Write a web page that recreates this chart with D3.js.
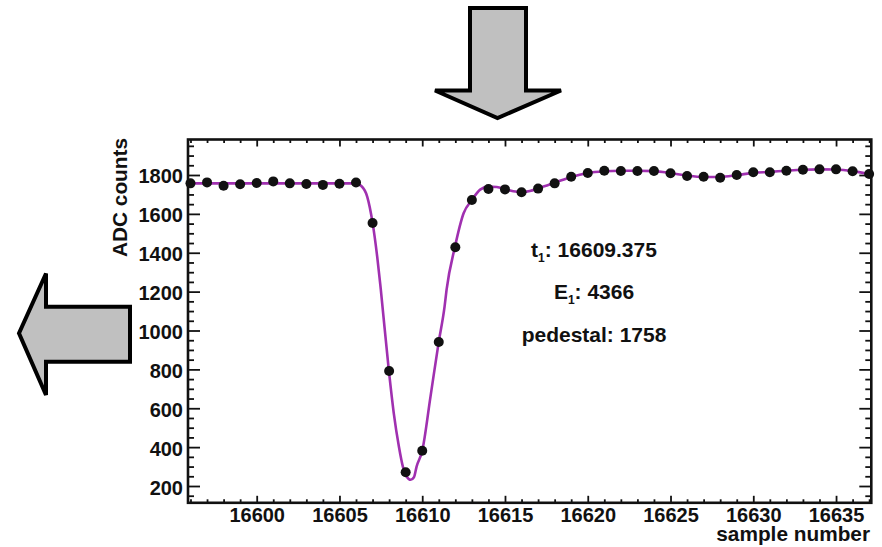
<!DOCTYPE html>
<html>
<head>
<meta charset="utf-8">
<script src="https://cdn.jsdelivr.net/npm/d3@7"></script>
<style>
  body { margin: 0; background: #fff; }
  svg { display: block; font-family: "Liberation Sans", Arial, sans-serif; font-weight: bold; }
  .axis text { font-size: 20px; font-weight: bold; fill: #111; }
  .axis line { stroke: #111; stroke-width: 1.8; }
  .axis path { display: none; }
</style>
</head>
<body>
<svg id="pulse_vis"></svg>
<script>
// measured samples (black dots)
let sampleNumbers = [16596, 16597, 16598, 16599, 16600, 16601, 16602, 16603, 16604, 16605,
  16606, 16607, 16608, 16609, 16610, 16611, 16612, 16613, 16614, 16615, 16616, 16617,
  16618, 16619, 16620, 16621, 16622, 16623, 16624, 16625, 16626, 16627, 16628, 16629,
  16630, 16631, 16632, 16633, 16634, 16635, 16636, 16637];
let adcCounts = [1757, 1762, 1745, 1752, 1759, 1767, 1757, 1754, 1749, 1755,
  1761, 1553, 792, 271, 381, 941, 1428, 1671, 1728, 1726, 1711, 1730,
  1757, 1791, 1810, 1822, 1821, 1821, 1821, 1809, 1795, 1791, 1786, 1800,
  1814, 1814, 1822, 1827, 1829, 1829, 1819, 1805];

// fitted curve
let fitX = [16595.85, 16600, 16605, 16606, 16606.3, 16606.68, 16607, 16607.28, 16607.5,
  16607.98, 16608.28, 16608.59, 16608.83, 16609.05, 16609.3, 16609.5, 16609.66, 16610,
  16610.5, 16611, 16611.35, 16611.47, 16611.97, 16612.5, 16613, 16613.5, 16614, 16614.5,
  16615, 16615.5, 16616, 16616.5, 16617, 16618, 16619, 16620, 16621, 16622, 16623, 16624,
  16625, 16626, 16627, 16628, 16629, 16630, 16631, 16632, 16633, 16634, 16635, 16636, 16637.13];
let fitY = [1757, 1757, 1757, 1757, 1745, 1688, 1555, 1380, 1209,
  797, 575, 403, 300, 250, 232, 245, 300, 381,
  660, 943, 1123, 1209, 1428, 1603, 1671, 1725, 1740, 1738,
  1728, 1716, 1712, 1718, 1731, 1760, 1790, 1810, 1819, 1822, 1822, 1820,
  1810, 1797, 1790, 1790, 1799, 1811, 1816, 1822, 1827, 1829, 1828, 1820, 1802];

let xMajor = [16600, 16605, 16610, 16615, 16620, 16625, 16630, 16635];
let yMajor = [200, 400, 600, 800, 1000, 1200, 1400, 1600, 1800];
let xDomain = [16595.85, 16637.13];
let yDomain = [113.6, 1982.6];

let fitLabels = [
  { name: "t", sub: "1", value: ": 16609.375" },
  { name: "E", sub: "1", value: ": 4366" },
  { name: "pedestal", sub: "", value: ": 1758" }
];

let config = { svg: {}, plot: {}, tick: {}, label: {} };
config.svg.width = 882;
config.svg.height = 547;
config.plot.x = 188;
config.plot.y = 139.5;
config.plot.width = 871.3 - 188;
config.plot.height = 502.8 - 139.5;
config.tick.xMajor = 7;
config.tick.xMinor = 3.5;
config.tick.yMajor = 12;
config.tick.yMinor = 6;
config.label.x = 594;
config.label.y = 256.5;
config.label.step = 42.5;

let svg = d3.select("svg#pulse_vis")
  .attr("width", config.svg.width)
  .attr("height", config.svg.height);

let scale = {};
scale.x = d3.scaleLinear().domain(xDomain).range([0, config.plot.width]);
scale.y = d3.scaleLinear().domain(yDomain).range([config.plot.height, 0]);

let xMinor = [];
for (let v = Math.ceil(xDomain[0]); v <= xDomain[1]; v++) {
  if (v % 5 != 0) xMinor.push(v);
}
let yMinor = [];
for (let v = 150; v <= yDomain[1]; v += 50) {
  if (v % 200 != 0) yMinor.push(v);
}

let plot = svg.append("g")
  .attr("id", "plot")
  .attr("transform", translate(config.plot.x, config.plot.y));

drawAxes();
drawCurve();
drawPoints();
drawFrame();
drawTitles();
drawArrows();

function drawAxes() {
  let xAxis = d3.axisBottom(scale.x).tickValues(xMajor).tickFormat(d3.format("d"))
    .tickSize(-config.tick.xMajor).tickPadding(5);
  plot.append("g").attr("class", "axis")
    .attr("transform", translate(0, config.plot.height))
    .call(xAxis);
  plot.append("g").attr("class", "axis")
    .attr("transform", translate(0, config.plot.height))
    .call(d3.axisBottom(scale.x).tickValues(xMinor).tickFormat("").tickSize(-config.tick.xMinor));
  plot.append("g").attr("class", "axis")
    .call(d3.axisTop(scale.x).tickValues(xMajor).tickFormat("").tickSize(-config.tick.xMajor));
  plot.append("g").attr("class", "axis")
    .call(d3.axisTop(scale.x).tickValues(xMinor).tickFormat("").tickSize(-config.tick.xMinor));

  let yAxis = d3.axisLeft(scale.y).tickValues(yMajor).tickFormat(d3.format("d"))
    .tickSize(-config.tick.yMajor).tickPadding(5);
  let gy = plot.append("g").attr("class", "axis").call(yAxis);
  gy.selectAll("text").attr("dy", "0.4em");
  plot.append("g").attr("class", "axis")
    .call(d3.axisLeft(scale.y).tickValues(yMinor).tickFormat("").tickSize(-config.tick.yMinor));
  plot.append("g").attr("class", "axis")
    .attr("transform", translate(config.plot.width, 0))
    .call(d3.axisRight(scale.y).tickValues(yMajor).tickFormat("").tickSize(-config.tick.yMajor));
  plot.append("g").attr("class", "axis")
    .attr("transform", translate(config.plot.width, 0))
    .call(d3.axisRight(scale.y).tickValues(yMinor).tickFormat("").tickSize(-config.tick.yMinor));
}

function drawCurve() {
  let fit = fitX.map((x, i) => ({ x: x, y: fitY[i] }));
  let line = d3.line()
    .x(d => scale.x(d.x))
    .y(d => scale.y(d.y))
    .curve(d3.curveMonotoneX);
  plot.append("path")
    .datum(fit)
    .attr("d", line)
    .attr("fill", "none")
    .attr("stroke", "#a030b0")
    .attr("stroke-width", 2.6);
}

function drawPoints() {
  let points = sampleNumbers.map((x, i) => ({ x: x, y: adcCounts[i] }));
  plot.selectAll("circle.sample")
    .data(points)
    .enter()
    .append("circle")
    .attr("class", "sample")
    .attr("cx", d => scale.x(d.x))
    .attr("cy", d => scale.y(d.y))
    .attr("r", 5)
    .attr("fill", "#111");
}

function drawFrame() {
  plot.append("rect")
    .attr("width", config.plot.width)
    .attr("height", config.plot.height)
    .attr("fill", "none")
    .attr("stroke", "#111")
    .attr("stroke-width", 2.6);
}

function drawTitles() {
  svg.append("text")
    .text("ADC counts")
    .attr("transform", translate(127, 138) + " rotate(-90)")
    .attr("text-anchor", "end")
    .attr("font-size", "20.8px")
    .attr("fill", "#111");

  svg.append("text")
    .text("sample number")
    .attr("x", 870)
    .attr("y", 541)
    .attr("text-anchor", "end")
    .attr("font-size", "20.8px")
    .attr("fill", "#111");

  let labels = svg.selectAll("text.fitlabel")
    .data(fitLabels)
    .enter()
    .append("text")
    .attr("class", "fitlabel")
    .attr("x", config.label.x)
    .attr("y", (d, i) => config.label.y + i * config.label.step)
    .attr("text-anchor", "middle")
    .attr("font-size", "21px")
    .attr("fill", "#111");

  labels.append("tspan").text(d => d.name);
  labels.append("tspan")
    .text(d => d.sub)
    .attr("font-size", "12px")
    .attr("dy", d => d.sub ? 5 : 0);
  labels.append("tspan")
    .text(d => d.value)
    .attr("dy", d => d.sub ? -5 : 0);
}

function drawArrows() {
  let down = [[470, 8], [526, 8], [526, 90.5], [561, 90.5], [497.5, 118], [435, 90.5], [470, 90.5]];
  let left = [[130, 306.7], [46, 306.7], [46, 273.5], [19, 333.3], [46, 395], [46, 361.7], [130, 361.7]];
  svg.selectAll("path.arrow")
    .data([down, left])
    .enter()
    .append("path")
    .attr("class", "arrow")
    .attr("d", d => d3.line()(d) + "Z")
    .attr("fill", "#c0c0c0")
    .attr("stroke", "#000")
    .attr("stroke-width", 4)
    .attr("stroke-linejoin", "miter");
}

function translate(x, y) {
  return "translate(" + x + "," + y + ")";
}
</script>
</body>
</html>
